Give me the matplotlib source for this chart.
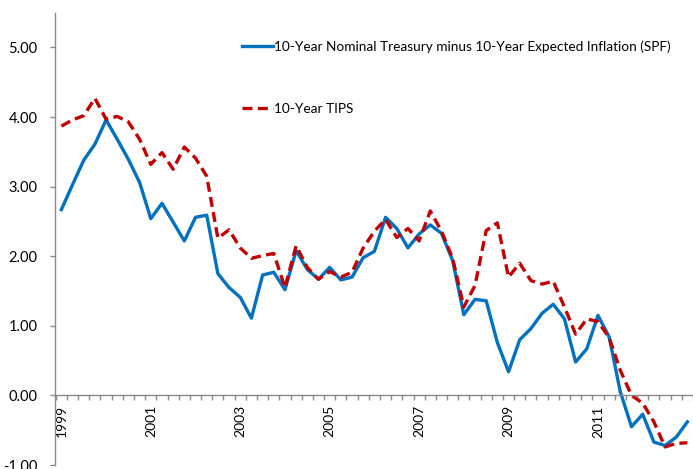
import numpy as np
import pandas as pd
import matplotlib
matplotlib.use("Agg")
import matplotlib.pyplot as plt
from matplotlib.ticker import FormatStrFormatter

plt.rcParams['font.family'] = ['Lato', 'DejaVu Sans']

# quarterly categories, 1999Q1 .. 2013Q1
quarters = pd.period_range("1999Q1", "2013Q1", freq="Q")

nominal_minus_spf = [2.67, 3.03, 3.38, 3.61, 3.96, 3.68, 3.39, 3.06, 2.54, 2.76,
                     2.49, 2.22, 2.56, 2.59, 1.75, 1.55, 1.41, 1.11, 1.73, 1.77,
                     1.52, 2.08, 1.81, 1.67, 1.84, 1.66, 1.70, 1.98, 2.07, 2.56,
                     2.40, 2.12, 2.32, 2.45, 2.33, 1.94, 1.16, 1.38, 1.36, 0.76,
                     0.34, 0.80, 0.96, 1.18, 1.31, 1.10, 0.48, 0.67, 1.15, 0.84,
                     0.05, -0.45, -0.27, -0.67, -0.72, -0.60, -0.38]

tips = [3.87, 3.96, 4.02, 4.27, 3.97, 4.01, 3.93, 3.68, 3.32, 3.49,
        3.25, 3.57, 3.41, 3.15, 2.26, 2.38, 2.12, 1.97, 2.01, 2.04,
        1.55, 2.15, 1.84, 1.67, 1.78, 1.70, 1.77, 2.12, 2.36, 2.53,
        2.27, 2.40, 2.22, 2.65, 2.36, 1.97, 1.27, 1.58, 2.37, 2.48,
        1.70, 1.90, 1.65, 1.60, 1.64, 1.27, 0.88, 1.10, 1.06, 0.83,
        0.36, 0.00, -0.11, -0.38, -0.74, -0.69, -0.68]

year_labels = ["1999", "2001", "2003", "2005", "2007", "2009", "2011"]
y_ticks = [-1, 0, 1, 2, 3, 4, 5]

axis_gray = "#898989"

fig = plt.figure(figsize=(6.93, 4.69), dpi=100)
ax = fig.add_axes([55 / 693, 4 / 469, 1 - 55 / 693, (465 - 12.7) / 469])

x = np.arange(len(quarters))
ax.plot(x, nominal_minus_spf, color="#0070C0", lw=2.4,
        label="10-Year Nominal Treasury minus 10-Year Expected Inflation (SPF)")
ax.plot(x, tips, color="#C00000", lw=2.4, ls=(0, (3, 1.6)),
        label="10-Year TIPS")

ax.set_ylim(-1, 5.5)
ax.set_xlim(-0.57, 56.0)
ax.set_yticks(y_ticks)
ax.yaxis.set_major_formatter(FormatStrFormatter("%.2f"))

for s in ["top", "right"]:
    ax.spines[s].set_visible(False)
ax.spines["bottom"].set_position(("data", 0))
for s in ["left", "bottom"]:
    ax.spines[s].set_color(axis_gray)
    ax.spines[s].set_linewidth(1.0)

# tick marks between categories, year labels on Q1 of odd years
ax.set_xticks(np.arange(-0.5, len(x) + 0.5, 1))
ax.set_xticklabels([])
label_pos = [i for i, q in enumerate(quarters) if q.quarter == 1 and str(q.year) in year_labels]
ax.set_xticks(label_pos, minor=True)
ax.set_xticklabels(year_labels, minor=True, rotation=90)
ax.tick_params(axis="x", which="major", direction="out", length=3.5, color=axis_gray, width=1)
ax.tick_params(axis="x", which="minor", length=0, pad=7, labelsize=10, labelcolor="#000000")
ax.tick_params(axis="y", direction="out", length=3.5, color=axis_gray, width=1,
               pad=9, labelsize=10.5, labelcolor="#000000")

ax.legend(loc="upper left", bbox_to_anchor=(242 / 693, 1 - 40 / 469),
          bbox_transform=fig.transFigure, frameon=False, fontsize=9.8,
          borderpad=0, borderaxespad=0, handlelength=2.25, handletextpad=0.1,
          labelspacing=3.7)

fig.savefig("out.png", dpi=100)
